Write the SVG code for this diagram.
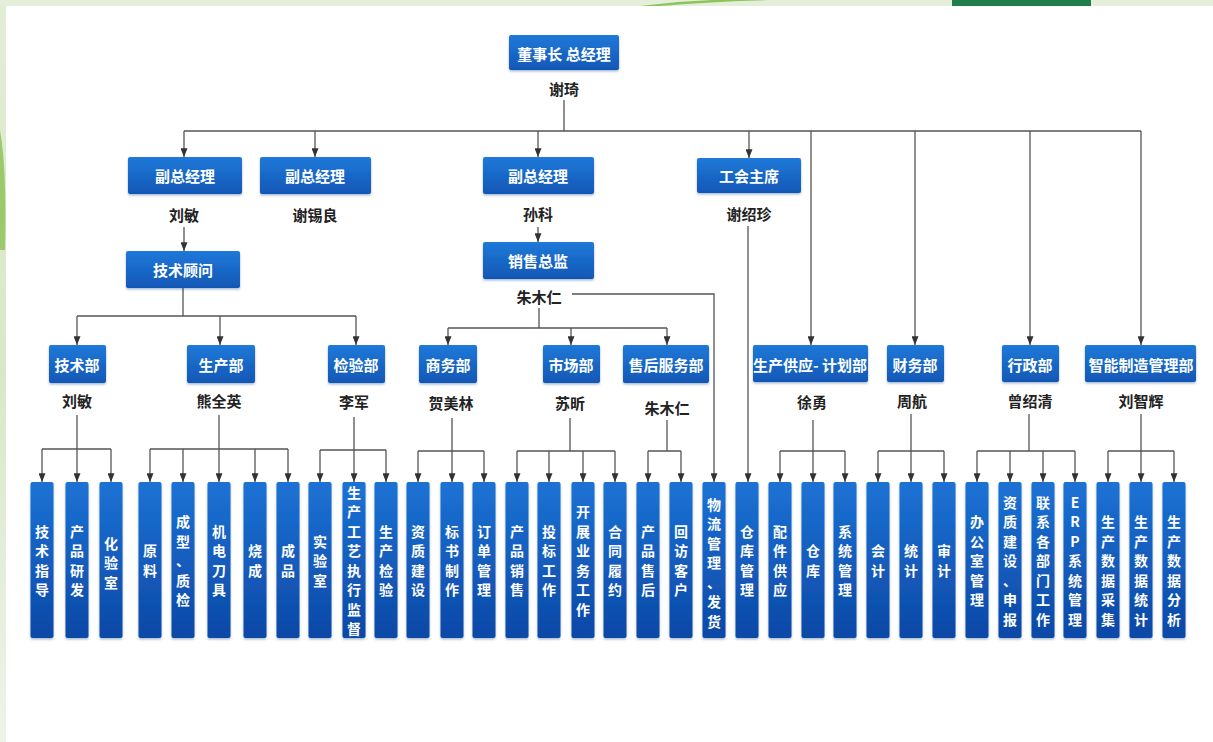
<svg xmlns="http://www.w3.org/2000/svg" width="1213" height="742" viewBox="0 0 1213 742">
<defs>
<linearGradient id="gBar" x1="0" y1="0" x2="0" y2="1">
<stop offset="0" stop-color="#1c72d4"/>
<stop offset="1" stop-color="#0d48a6"/>
</linearGradient>
<linearGradient id="gHdr" x1="0" y1="0" x2="0" y2="1">
<stop offset="0" stop-color="#2079d8"/>
<stop offset="1" stop-color="#1157b6"/>
</linearGradient>
<linearGradient id="gLeft" x1="0" y1="0" x2="0" y2="1">
<stop offset="0" stop-color="#e2edd6"/>
<stop offset="0.5" stop-color="#d7e8c8"/>
<stop offset="1" stop-color="#eef4e8"/>
</linearGradient>
<filter id="sh" x="-20%" y="-10%" width="140%" height="130%">
<feDropShadow dx="0" dy="1.5" stdDeviation="1" flood-color="#0a3a80" flood-opacity="0.35"/>
</filter>
<marker id="arr" viewBox="0 0 8 10" refX="4" refY="10" markerWidth="7" markerHeight="9" markerUnits="userSpaceOnUse" orient="auto-start-reverse">
<path d="M0 0 L8 0 L4 10 Z" fill="#333"/>
</marker>
<marker id="arrD" viewBox="0 0 8 10" refX="4" refY="10" markerWidth="7" markerHeight="9" markerUnits="userSpaceOnUse" orient="0">
<path d="M0 0 L8 0 L4 10 Z" fill="#333"/>
</marker>
</defs>
<style>
.hdr{fill:url(#gHdr);filter:url(#sh)}
.bar{fill:url(#gBar);filter:url(#sh)}
.ht{font-family:"Noto Sans CJK SC","Noto Sans",sans-serif;font-weight:700;font-size:15px;fill:#fff;text-anchor:middle;dominant-baseline:central}
.nm{font-family:"Noto Sans CJK SC","Noto Sans",sans-serif;font-weight:700;font-size:15px;fill:#222;text-anchor:middle;dominant-baseline:central}
.vt{font-family:"Noto Sans CJK SC","Noto Sans",sans-serif;font-weight:700;font-size:14px;fill:#fff;text-anchor:middle;dominant-baseline:central}
.c{fill:none;stroke:#555;stroke-width:1.3}
.a{fill:none;stroke:#555;stroke-width:1.3;marker-end:url(#arrD)}
</style>
<!-- background -->
<rect x="0" y="0" width="1213" height="742" fill="#ffffff"/>
<rect x="0" y="0" width="6" height="742" fill="url(#gLeft)"/>
<rect x="0" y="0" width="1213" height="6" fill="#e4eedb"/>
<path d="M0 130 Q7 170 5 250 L0 250 Z" fill="#9cc96c"/>
<path d="M640 6 Q700 -2 760 0 L770 0 Q705 2 660 6 Z" fill="#8cc65a"/>
<rect x="952" y="0" width="139" height="6" fill="#1f7f4b"/>

<g id="connectors">
<path class="c" d="M564 100 V131 M184 131 H1141"/>
<path class="a" d="M184 131 V157"/>
<path class="a" d="M315 131 V157"/>
<path class="a" d="M538 131 V157"/>
<path class="a" d="M749 131 V158"/>
<path class="a" d="M811 131 V345"/>
<path class="a" d="M915 131 V345"/>
<path class="a" d="M1030 131 V345"/>
<path class="a" d="M1141 131 V345"/>
<path class="a" d="M184 227 V251"/>
<path class="a" d="M538 227 V242"/>
<path class="c" d="M183 288 V316 M77 316 H356"/>
<path class="a" d="M77 316 V345"/>
<path class="a" d="M220 316 V345"/>
<path class="a" d="M356 316 V345"/>
<path class="c" d="M539 308 V328 M448 328 H667"/>
<path class="a" d="M448 328 V345"/>
<path class="a" d="M571 328 V345"/>
<path class="a" d="M667 328 V345"/>
<path class="a" d="M572 294 H714 V482"/>
<path class="a" d="M748 226 V482"/>
<path class="c" d="M77 415 V449 M42 449 H111"/>
<path class="a" d="M42 449 V482"/><path class="a" d="M77 449 V482"/><path class="a" d="M111 449 V482"/>
<path class="c" d="M219 415 V449 M150 449 H288"/>
<path class="a" d="M150 449 V482"/><path class="a" d="M183 449 V482"/><path class="a" d="M219 449 V482"/><path class="a" d="M255 449 V482"/><path class="a" d="M288 449 V482"/>
<path class="c" d="M354 417 V450 M320 450 H386"/>
<path class="a" d="M320 450 V482"/><path class="a" d="M354 450 V482"/><path class="a" d="M386 450 V482"/>
<path class="c" d="M452 418 V451 M418 451 H484"/>
<path class="a" d="M418 451 V482"/><path class="a" d="M452 451 V482"/><path class="a" d="M484 451 V482"/>
<path class="c" d="M570 418 V451 M517 451 H615"/>
<path class="a" d="M517 451 V482"/><path class="a" d="M549 451 V482"/><path class="a" d="M583 451 V482"/><path class="a" d="M615 451 V482"/>
<path class="c" d="M667 420 V451 M648 451 H681"/>
<path class="a" d="M648 451 V482"/><path class="a" d="M681 451 V482"/>
<path class="c" d="M813 420 V451 M780 451 H845"/>
<path class="a" d="M780 451 V482"/><path class="a" d="M813 451 V482"/><path class="a" d="M845 451 V482"/>
<path class="c" d="M911 414 V451 M878 451 H944"/>
<path class="a" d="M878 451 V482"/><path class="a" d="M911 451 V482"/><path class="a" d="M944 451 V482"/>
<path class="c" d="M1029 414 V451 M977 451 H1075"/>
<path class="a" d="M977 451 V482"/><path class="a" d="M1010 451 V482"/><path class="a" d="M1043 451 V482"/><path class="a" d="M1075 451 V482"/>
<path class="c" d="M1141 414 V451 M1108 451 H1174"/>
<path class="a" d="M1108 451 V482"/><path class="a" d="M1141 451 V482"/><path class="a" d="M1174 451 V482"/>
</g>

<g id="n-ceo"><rect class="hdr" x="509" y="35" width="110" height="35" rx="2"/><text class="ht" x="564" y="53">董事长 总经理</text><text class="nm" x="564" y="88">谢琦</text></g>
<g id="n-vp1"><rect class="hdr" x="128" y="157" width="114" height="37" rx="2"/><text class="ht" x="185" y="175">副总经理</text><text class="nm" x="184" y="214">刘敏</text></g>
<g id="n-vp2"><rect class="hdr" x="260" y="157" width="111" height="37" rx="2"/><text class="ht" x="315" y="175">副总经理</text><text class="nm" x="315" y="214">谢锡良</text></g>
<g id="n-vp3"><rect class="hdr" x="483" y="157" width="111" height="37" rx="2"/><text class="ht" x="538" y="175">副总经理</text><text class="nm" x="538" y="213">孙科</text></g>
<g id="n-union"><rect class="hdr" x="697" y="158" width="104" height="35" rx="2"/><text class="ht" x="749" y="175">工会主席</text><text class="nm" x="749" y="213">谢绍珍</text></g>
<g id="n-techadv"><rect class="hdr" x="126" y="251" width="114" height="37" rx="2"/><text class="ht" x="183" y="269">技术顾问</text></g>
<g id="n-salesdir"><rect class="hdr" x="483" y="242" width="111" height="37" rx="2"/><text class="ht" x="538" y="260">销售总监</text><text class="nm" x="539" y="296">朱木仁</text></g>
<g id="n-tech"><rect class="hdr" x="49" y="345" width="57" height="38" rx="2"/><text class="ht" x="77" y="364">技术部</text><text class="nm" x="77" y="400">刘敏</text></g>
<g id="n-prod"><rect class="hdr" x="187" y="345" width="68" height="38" rx="2"/><text class="ht" x="221" y="364">生产部</text><text class="nm" x="219" y="400">熊全英</text></g>
<g id="n-qc"><rect class="hdr" x="328" y="345" width="57" height="38" rx="2"/><text class="ht" x="356" y="364">检验部</text><text class="nm" x="354" y="401">李军</text></g>
<g id="n-biz"><rect class="hdr" x="419" y="345" width="58" height="38" rx="2"/><text class="ht" x="448" y="364">商务部</text><text class="nm" x="451" y="402">贺美林</text></g>
<g id="n-mkt"><rect class="hdr" x="543" y="345" width="57" height="38" rx="2"/><text class="ht" x="571" y="364">市场部</text><text class="nm" x="570" y="402">苏昕</text></g>
<g id="n-after"><rect class="hdr" x="623" y="345" width="86" height="38" rx="2"/><text class="ht" x="666" y="364">售后服务部</text><text class="nm" x="667" y="407">朱木仁</text></g>
<g id="n-supply"><rect class="hdr" x="753" y="345" width="115" height="37" rx="2"/><text class="ht" x="810" y="364">生产供应- 计划部</text><text class="nm" x="812" y="401">徐勇</text></g>
<g id="n-fin"><rect class="hdr" x="887" y="345" width="57" height="37" rx="2"/><text class="ht" x="915" y="364">财务部</text><text class="nm" x="912" y="400">周航</text></g>
<g id="n-admin"><rect class="hdr" x="1002" y="345" width="57" height="37" rx="2"/><text class="ht" x="1030" y="364">行政部</text><text class="nm" x="1030" y="400">曾绍清</text></g>
<g id="n-smart"><rect class="hdr" x="1085" y="345" width="111" height="37" rx="2"/><text class="ht" x="1141" y="364">智能制造管理部</text><text class="nm" x="1141" y="400">刘智辉</text></g>

<g id="n-b01"><rect class="bar" x="30.5" y="482" width="23" height="156" rx="2"/><text class="vt"><tspan x="42" y="530.75">技</tspan><tspan x="42" y="550.25">术</tspan><tspan x="42" y="569.75">指</tspan><tspan x="42" y="589.25">导</tspan></text></g>
<g id="n-b02"><rect class="bar" x="65.5" y="482" width="23" height="156" rx="2"/><text class="vt"><tspan x="77" y="530.75">产</tspan><tspan x="77" y="550.25">品</tspan><tspan x="77" y="569.75">研</tspan><tspan x="77" y="589.25">发</tspan></text></g>
<g id="n-b03"><rect class="bar" x="99.5" y="482" width="23" height="156" rx="2"/><text class="vt"><tspan x="111" y="542.5">化</tspan><tspan x="111" y="562">验</tspan><tspan x="111" y="581.5">室</tspan></text></g>
<g id="n-b04"><rect class="bar" x="138.5" y="482" width="23" height="156" rx="2"/><text class="vt"><tspan x="150" y="550.25">原</tspan><tspan x="150" y="569.75">料</tspan></text></g>
<g id="n-b05"><rect class="bar" x="171.5" y="482" width="23" height="156" rx="2"/><text class="vt"><tspan x="183" y="521">成</tspan><tspan x="183" y="540.5">型</tspan><tspan x="183" y="560">、</tspan><tspan x="183" y="579.5">质</tspan><tspan x="183" y="599">检</tspan></text></g>
<g id="n-b06"><rect class="bar" x="207.5" y="482" width="23" height="156" rx="2"/><text class="vt"><tspan x="219" y="530.75">机</tspan><tspan x="219" y="550.25">电</tspan><tspan x="219" y="569.75">刀</tspan><tspan x="219" y="589.25">具</tspan></text></g>
<g id="n-b07"><rect class="bar" x="243.5" y="482" width="23" height="156" rx="2"/><text class="vt"><tspan x="255" y="550.25">烧</tspan><tspan x="255" y="569.75">成</tspan></text></g>
<g id="n-b08"><rect class="bar" x="276.5" y="482" width="23" height="156" rx="2"/><text class="vt"><tspan x="288" y="550.25">成</tspan><tspan x="288" y="569.75">品</tspan></text></g>
<g id="n-b09"><rect class="bar" x="308.5" y="482" width="23" height="156" rx="2"/><text class="vt"><tspan x="320" y="540.5">实</tspan><tspan x="320" y="560">验</tspan><tspan x="320" y="579.5">室</tspan></text></g>
<g id="n-b10"><rect class="bar" x="342.5" y="482" width="23" height="156" rx="2"/><text class="vt"><tspan x="354" y="491.75">生</tspan><tspan x="354" y="511.25">产</tspan><tspan x="354" y="530.75">工</tspan><tspan x="354" y="550.25">艺</tspan><tspan x="354" y="569.75">执</tspan><tspan x="354" y="589.25">行</tspan><tspan x="354" y="608.75">监</tspan><tspan x="354" y="628.25">督</tspan></text></g>
<g id="n-b11"><rect class="bar" x="374.5" y="482" width="23" height="156" rx="2"/><text class="vt"><tspan x="386" y="530.75">生</tspan><tspan x="386" y="550.25">产</tspan><tspan x="386" y="569.75">检</tspan><tspan x="386" y="589.25">验</tspan></text></g>
<g id="n-b12"><rect class="bar" x="406.5" y="482" width="23" height="156" rx="2"/><text class="vt"><tspan x="418" y="530.75">资</tspan><tspan x="418" y="550.25">质</tspan><tspan x="418" y="569.75">建</tspan><tspan x="418" y="589.25">设</tspan></text></g>
<g id="n-b13"><rect class="bar" x="440.5" y="482" width="23" height="156" rx="2"/><text class="vt"><tspan x="452" y="530.75">标</tspan><tspan x="452" y="550.25">书</tspan><tspan x="452" y="569.75">制</tspan><tspan x="452" y="589.25">作</tspan></text></g>
<g id="n-b14"><rect class="bar" x="472.5" y="482" width="23" height="156" rx="2"/><text class="vt"><tspan x="484" y="530.75">订</tspan><tspan x="484" y="550.25">单</tspan><tspan x="484" y="569.75">管</tspan><tspan x="484" y="589.25">理</tspan></text></g>
<g id="n-b15"><rect class="bar" x="505.5" y="482" width="23" height="156" rx="2"/><text class="vt"><tspan x="517" y="530.75">产</tspan><tspan x="517" y="550.25">品</tspan><tspan x="517" y="569.75">销</tspan><tspan x="517" y="589.25">售</tspan></text></g>
<g id="n-b16"><rect class="bar" x="537.5" y="482" width="23" height="156" rx="2"/><text class="vt"><tspan x="549" y="530.75">投</tspan><tspan x="549" y="550.25">标</tspan><tspan x="549" y="569.75">工</tspan><tspan x="549" y="589.25">作</tspan></text></g>
<g id="n-b17"><rect class="bar" x="571.5" y="482" width="23" height="156" rx="2"/><text class="vt"><tspan x="583" y="511.25">开</tspan><tspan x="583" y="530.75">展</tspan><tspan x="583" y="550.25">业</tspan><tspan x="583" y="569.75">务</tspan><tspan x="583" y="589.25">工</tspan><tspan x="583" y="608.75">作</tspan></text></g>
<g id="n-b18"><rect class="bar" x="603.5" y="482" width="23" height="156" rx="2"/><text class="vt"><tspan x="615" y="530.75">合</tspan><tspan x="615" y="550.25">同</tspan><tspan x="615" y="569.75">履</tspan><tspan x="615" y="589.25">约</tspan></text></g>
<g id="n-b19"><rect class="bar" x="636.5" y="482" width="23" height="156" rx="2"/><text class="vt"><tspan x="648" y="530.75">产</tspan><tspan x="648" y="550.25">品</tspan><tspan x="648" y="569.75">售</tspan><tspan x="648" y="589.25">后</tspan></text></g>
<g id="n-b20"><rect class="bar" x="669.5" y="482" width="23" height="156" rx="2"/><text class="vt"><tspan x="681" y="530.75">回</tspan><tspan x="681" y="550.25">访</tspan><tspan x="681" y="569.75">客</tspan><tspan x="681" y="589.25">户</tspan></text></g>
<g id="n-b21"><rect class="bar" x="702.5" y="482" width="23" height="156" rx="2"/><text class="vt"><tspan x="714" y="503.5">物</tspan><tspan x="714" y="523">流</tspan><tspan x="714" y="542.5">管</tspan><tspan x="714" y="562">理</tspan><tspan x="714" y="581.5">、</tspan><tspan x="714" y="601">发</tspan><tspan x="714" y="620.5">货</tspan></text></g>
<g id="n-b22"><rect class="bar" x="735.5" y="482" width="23" height="156" rx="2"/><text class="vt"><tspan x="747" y="530.75">仓</tspan><tspan x="747" y="550.25">库</tspan><tspan x="747" y="569.75">管</tspan><tspan x="747" y="589.25">理</tspan></text></g>
<g id="n-b23"><rect class="bar" x="768.5" y="482" width="23" height="156" rx="2"/><text class="vt"><tspan x="780" y="530.75">配</tspan><tspan x="780" y="550.25">件</tspan><tspan x="780" y="569.75">供</tspan><tspan x="780" y="589.25">应</tspan></text></g>
<g id="n-b24"><rect class="bar" x="801.5" y="482" width="23" height="156" rx="2"/><text class="vt"><tspan x="813" y="550.25">仓</tspan><tspan x="813" y="569.75">库</tspan></text></g>
<g id="n-b25"><rect class="bar" x="833.5" y="482" width="23" height="156" rx="2"/><text class="vt"><tspan x="845" y="530.75">系</tspan><tspan x="845" y="550.25">统</tspan><tspan x="845" y="569.75">管</tspan><tspan x="845" y="589.25">理</tspan></text></g>
<g id="n-b26"><rect class="bar" x="866.5" y="482" width="23" height="156" rx="2"/><text class="vt"><tspan x="878" y="550.25">会</tspan><tspan x="878" y="569.75">计</tspan></text></g>
<g id="n-b27"><rect class="bar" x="899.5" y="482" width="23" height="156" rx="2"/><text class="vt"><tspan x="911" y="550.25">统</tspan><tspan x="911" y="569.75">计</tspan></text></g>
<g id="n-b28"><rect class="bar" x="932.5" y="482" width="23" height="156" rx="2"/><text class="vt"><tspan x="944" y="550.25">审</tspan><tspan x="944" y="569.75">计</tspan></text></g>
<g id="n-b29"><rect class="bar" x="965.5" y="482" width="23" height="156" rx="2"/><text class="vt"><tspan x="977" y="521">办</tspan><tspan x="977" y="540.5">公</tspan><tspan x="977" y="560">室</tspan><tspan x="977" y="579.5">管</tspan><tspan x="977" y="599">理</tspan></text></g>
<g id="n-b30"><rect class="bar" x="998.5" y="482" width="23" height="156" rx="2"/><text class="vt"><tspan x="1010" y="501.5">资</tspan><tspan x="1010" y="521">质</tspan><tspan x="1010" y="540.5">建</tspan><tspan x="1010" y="560">设</tspan><tspan x="1010" y="579.5">、</tspan><tspan x="1010" y="599">申</tspan><tspan x="1010" y="618.5">报</tspan></text></g>
<g id="n-b31"><rect class="bar" x="1031.5" y="482" width="23" height="156" rx="2"/><text class="vt"><tspan x="1043" y="501.5">联</tspan><tspan x="1043" y="521">系</tspan><tspan x="1043" y="540.5">各</tspan><tspan x="1043" y="560">部</tspan><tspan x="1043" y="579.5">门</tspan><tspan x="1043" y="599">工</tspan><tspan x="1043" y="618.5">作</tspan></text></g>
<g id="n-b32"><rect class="bar" x="1063.5" y="482" width="23" height="156" rx="2"/><text class="vt"><tspan x="1075" y="501.5">E</tspan><tspan x="1075" y="521">R</tspan><tspan x="1075" y="540.5">P</tspan><tspan x="1075" y="560">系</tspan><tspan x="1075" y="579.5">统</tspan><tspan x="1075" y="599">管</tspan><tspan x="1075" y="618.5">理</tspan></text></g>
<g id="n-b33"><rect class="bar" x="1096.5" y="482" width="23" height="156" rx="2"/><text class="vt"><tspan x="1108" y="521">生</tspan><tspan x="1108" y="540.5">产</tspan><tspan x="1108" y="560">数</tspan><tspan x="1108" y="579.5">据</tspan><tspan x="1108" y="599">采</tspan><tspan x="1108" y="618.5">集</tspan></text></g>
<g id="n-b34"><rect class="bar" x="1129.5" y="482" width="23" height="156" rx="2"/><text class="vt"><tspan x="1141" y="521">生</tspan><tspan x="1141" y="540.5">产</tspan><tspan x="1141" y="560">数</tspan><tspan x="1141" y="579.5">据</tspan><tspan x="1141" y="599">统</tspan><tspan x="1141" y="618.5">计</tspan></text></g>
<g id="n-b35"><rect class="bar" x="1162.5" y="482" width="23" height="156" rx="2"/><text class="vt"><tspan x="1174" y="521">生</tspan><tspan x="1174" y="540.5">产</tspan><tspan x="1174" y="560">数</tspan><tspan x="1174" y="579.5">据</tspan><tspan x="1174" y="599">分</tspan><tspan x="1174" y="618.5">析</tspan></text></g>
</svg>
